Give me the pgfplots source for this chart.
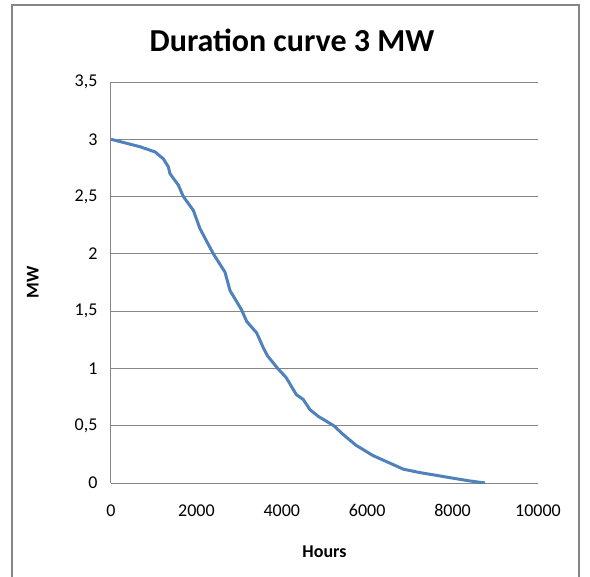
\documentclass[border=0pt]{standalone}
\usepackage{pgfplots}
\pgfplotsset{compat=1.18}
\usepackage{fontspec}
\setmainfont{Carlito}
\definecolor{exblue}{RGB}{79,129,189}
\definecolor{grd}{RGB}{134,134,134}
\begin{document}
\begin{tikzpicture}
\path[use as bounding box] (0,0) rectangle (590pt,-577pt);
\draw[grd, line width=1.5pt] (12pt,-600pt) -- (12pt,-5pt) -- (579pt,-5pt) -- (579pt,-600pt);
\node[font=\fontsize{32}{36}\selectfont\bfseries] at (292pt,-40pt) {Duration curve 3 MW};
\begin{axis}[
  at={(111pt,-483pt)}, anchor=origin,
  scale only axis, width=427pt, height=401pt,
  xmin=0, xmax=10000, ymin=0, ymax=3.5,
  xtick={0,2000,...,10000}, ytick={0,0.5,...,3.5},
  axis lines=left, axis line style={-, grd, line width=1pt},
  ymajorgrids, grid style={grd, line width=1pt},
  major tick length=0pt,
  scaled x ticks=false,
  tick label style={font=\fontsize{18}{20}\selectfont},
  /pgf/number format/.cd, use comma, 1000 sep={}, assume math mode=true, /pgfplots/.cd,
  xticklabel style={yshift=-18pt},
  yticklabel style={xshift=-10pt},
  xlabel={\textbf{Hours}}, ylabel={\textbf{MW}},
  label style={font=\fontsize{18}{20}\selectfont},
  xlabel style={at={(axis description cs:0.5,-0.172)}, anchor=center},
  ylabel style={at={(axis description cs:-0.183,0.5)}, anchor=center},
]
\addplot[exblue, line width=3pt, line join=round] coordinates {
(0,3.00) (680,2.935) (1030,2.89) (1225,2.83) (1343,2.76) (1382,2.70)
(1577,2.60) (1694,2.50) (1928,2.38) (2084,2.22) (2397,2.00) (2670,1.84)
(2787,1.68) (3060,1.51) (3178,1.41) (3412,1.31) (3567,1.18) (3665,1.11)
(3904,1.00) (4103,0.92) (4342,0.77) (4501,0.73) (4660,0.64) (4860,0.58)
(5218,0.50) (5417,0.43) (5735,0.33) (6133,0.24) (6492,0.18) (6850,0.12)
(7248,0.09) (7726,0.06) (8365,0.02) (8760,0.00)
};
\end{axis}
\end{tikzpicture}
\end{document}
